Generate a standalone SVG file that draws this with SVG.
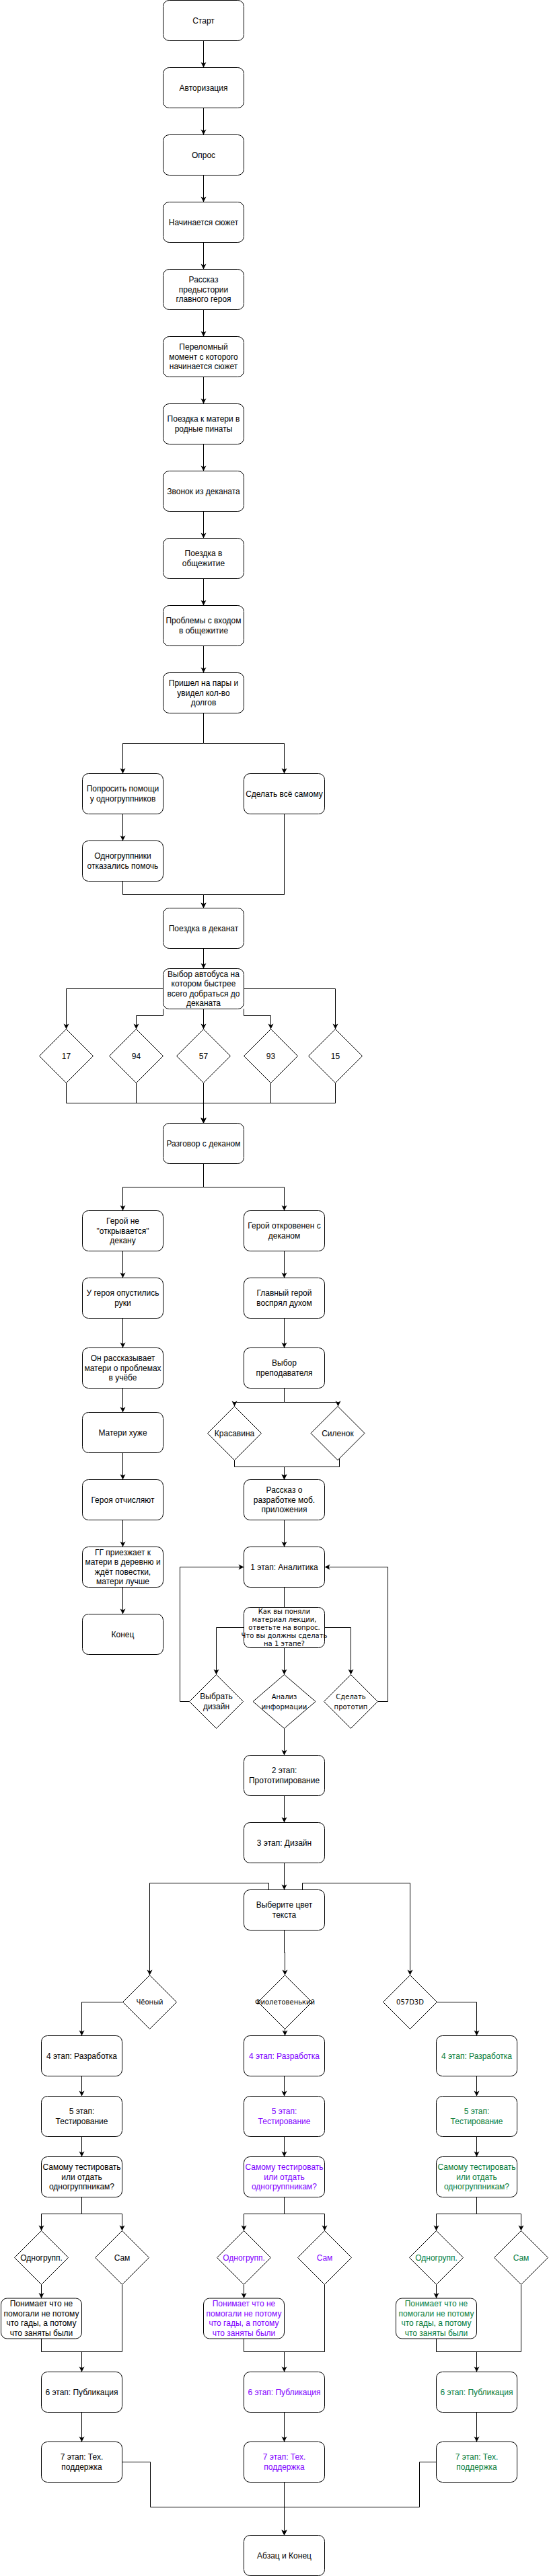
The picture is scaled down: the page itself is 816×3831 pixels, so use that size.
<svg xmlns="http://www.w3.org/2000/svg" width="816" height="3831" viewBox="0 0 816 3831">
<style>
.b{fill:#fff;stroke:#000;stroke-width:1}
.t{font-family:"Liberation Sans",Arial,Helvetica,sans-serif;font-size:12px;text-anchor:middle;fill:#000}
.s{font-family:"DejaVu Sans",Verdana,sans-serif;font-size:10px;text-anchor:middle;fill:#000}
.p{fill:#7F00FF}
.g{fill:#057D3D}
.e path{fill:none;stroke:#000;stroke-width:1}
.e path.a{marker-end:url(#arr)}
</style>
<defs>
<marker id="arr" markerUnits="userSpaceOnUse" markerWidth="10" markerHeight="10" viewBox="-9 -5 10 10" refX="0" refY="0" orient="auto"><path d="M-8,-4 L0,0 L-8,4 L-6,0 Z" fill="#000" stroke="none"/></marker>
</defs>
<rect width="816" height="3831" fill="#fff"/>
<g id="connectors" class="e">
<path class="a" d="M302.5 60.5V100.5"/>
<path class="a" d="M302.5 160.5V200.5"/>
<path class="a" d="M302.5 260.5V300.5"/>
<path class="a" d="M302.5 360.5V400.5"/>
<path class="a" d="M302.5 460.5V500.5"/>
<path class="a" d="M302.5 560.5V600.5"/>
<path class="a" d="M302.5 660.5V700.5"/>
<path class="a" d="M302.5 760.5V800.5"/>
<path class="a" d="M302.5 860.5V900.5"/>
<path class="a" d="M302.5 960.5V1000.5"/>
<path class="a" d="M302.5 1060.5V1105.5H182.5V1150.5"/>
<path class="a" d="M302.5 1105.5H422.5V1150.5"/>
<path class="a" d="M182.5 1210.5V1250.5"/>
<path class="a" d="M182.5 1310.5V1330.5H302.5V1350.5"/>
<path class="a" d="M422.5 1210.5V1330.5H302.5V1350.5"/>
<path class="a" d="M302.5 1410.5V1440.5"/>
<path class="a" d="M242.5 1470.5H98.5V1530.5"/>
<path class="a" d="M242.5 1500.5V1510.5H202.5V1530.5"/>
<path class="a" d="M302.5 1500.5V1530.5"/>
<path class="a" d="M362.5 1500.5V1510.5H402.5V1530.5"/>
<path class="a" d="M362.5 1470.5H498.5V1530.5"/>
<path class="a" d="M98.5 1610.5V1640.5H302.5V1670.5"/>
<path class="a" d="M202.5 1610.5V1640.5H302.5V1670.5"/>
<path class="a" d="M302.5 1610.5V1670.5"/>
<path class="a" d="M402.5 1610.5V1640.5H302.5V1670.5"/>
<path class="a" d="M498.5 1610.5V1640.5H302.5V1670.5"/>
<path class="a" d="M302.5 1730.5V1765.5H182.5V1800.5"/>
<path class="a" d="M302.5 1765.5H422.5V1800.5"/>
<path class="a" d="M182.5 1860.5V1900.5"/>
<path class="a" d="M182.5 1960.5V2004.5"/>
<path class="a" d="M182.5 2064.5V2100.5"/>
<path class="a" d="M182.5 2160.5V2200.5"/>
<path class="a" d="M182.5 2260.5V2300.5"/>
<path class="a" d="M182.5 2360.5V2400.5"/>
<path class="a" d="M422.5 1860.5V1900.5"/>
<path class="a" d="M422.5 1960.5V2004.5"/>
<path class="a" d="M422.5 2064.5V2085.5H348.5V2091.5"/>
<path class="a" d="M422.5 2085.5H502.5V2091.5"/>
<path class="a" d="M348.5 2171.5V2181.5H422.5V2200.5"/>
<path class="a" d="M504.5 2169V2181.5H422.5V2200.5"/>
<path class="a" d="M422.5 2260.5V2300.5"/>
<path d="M422.5 2360.5V2390.5"/>
<path class="a" d="M362.5 2420.5H321.5V2490.5"/>
<path class="a" d="M422.5 2450.5V2490.5"/>
<path class="a" d="M482.5 2420.5H521.5V2490.5"/>
<path class="a" d="M281.5 2530.5H267.5V2330.5H362.5"/>
<path class="a" d="M561.5 2530.5H576.5V2330.5H482.5"/>
<path class="a" d="M422.5 2570.5V2610.5"/>
<path class="a" d="M422.5 2670.5V2710.5"/>
<path class="a" d="M422.5 2770.5V2810.5"/>
<path class="a" d="M399.5 2810.5V2800.5H222.5V2937.5"/>
<path class="a" d="M449.5 2810.5V2800.5H609.5V2937.5"/>
<path class="a" d="M422.5 2870.5V2903.5H423.5V2937.5"/>
<path class="a" d="M182.5 2977.5H121.5V3027.5"/>
<path class="a" d="M423.5 3017.5V3027.5"/>
<path d="M423.5 3027.5V3036.5"/>
<path class="a" d="M649.5 2977.5H708.5V3027.5"/>
<path class="a" d="M121.5 3087.5V3117.5"/>
<path class="a" d="M121.5 3177.5V3207.5"/>
<path class="a" d="M121.5 3267.5V3292.5H61.5V3317.5"/>
<path class="a" d="M121.5 3292.5H181.5V3317.5"/>
<path class="a" d="M61.5 3397.5V3418"/>
<path d="M61.5 3478V3497.5H181.5V3397.5"/>
<path class="a" d="M121.5 3497.5V3527.5"/>
<path class="a" d="M121.5 3587.5V3631.5"/>
<path class="a" d="M422.5 3087.5V3117.5"/>
<path class="a" d="M422.5 3177.5V3207.5"/>
<path class="a" d="M422.5 3267.5V3292.5H362.5V3317.5"/>
<path class="a" d="M422.5 3292.5H482.5V3317.5"/>
<path class="a" d="M362.5 3397.5V3418"/>
<path d="M362.5 3478V3497.5H482.5V3397.5"/>
<path class="a" d="M422.5 3497.5V3527.5"/>
<path class="a" d="M422.5 3587.5V3631.5"/>
<path class="a" d="M708.5 3087.5V3117.5"/>
<path class="a" d="M708.5 3177.5V3207.5"/>
<path class="a" d="M708.5 3267.5V3292.5H648.5V3317.5"/>
<path class="a" d="M708.5 3292.5H774.5V3317.5"/>
<path class="a" d="M648.5 3397.5V3418"/>
<path d="M648.5 3478V3497.5H774.5V3397.5"/>
<path class="a" d="M708.5 3497.5V3527.5"/>
<path class="a" d="M708.5 3587.5V3631.5"/>
<path class="a" d="M181.5 3661.5H223.5V3728.5H422.5V3770.5"/>
<path class="a" d="M422.5 3691.5V3770.5"/>
<path class="a" d="M648.5 3661.5H623.5V3728.5H422.5V3770.5"/>
</g>
<g id="n-start"><rect class="b" x="242.5" y="0.5" width="120" height="60" rx="9"/><text class="t" x="302.5" y="34.5">Старт</text></g>
<g id="n-auth"><rect class="b" x="242.5" y="100.5" width="120" height="60" rx="9"/><text class="t" x="302.5" y="134.5">Авторизация</text></g>
<g id="n-opros"><rect class="b" x="242.5" y="200.5" width="120" height="60" rx="9"/><text class="t" x="302.5" y="234.5">Опрос</text></g>
<g id="n-syuzhet"><rect class="b" x="242.5" y="300.5" width="120" height="60" rx="9"/><text class="t" x="302.5" y="334.5">Начинается сюжет</text></g>
<g id="n-rasskaz"><rect class="b" x="242.5" y="400.5" width="120" height="60" rx="9"/><text class="t"><tspan x="302.5" y="420.1">Рассказ</tspan><tspan x="302.5" y="434.5">предыстории</tspan><tspan x="302.5" y="448.9">главного героя</tspan></text></g>
<g id="n-perelom"><rect class="b" x="242.5" y="500.5" width="120" height="60" rx="9"/><text class="t"><tspan x="302.5" y="520.1">Переломный</tspan><tspan x="302.5" y="534.5">момент с которого</tspan><tspan x="302.5" y="548.9">начинается сюжет</tspan></text></g>
<g id="n-poezdka-mat"><rect class="b" x="242.5" y="600.5" width="120" height="60" rx="9"/><text class="t"><tspan x="302.5" y="627.3">Поездка к матери в</tspan><tspan x="302.5" y="641.7">родные пинаты</tspan></text></g>
<g id="n-zvonok"><rect class="b" x="242.5" y="700.5" width="120" height="60" rx="9"/><text class="t" x="302.5" y="734.5">Звонок из деканата</text></g>
<g id="n-obsh"><rect class="b" x="242.5" y="800.5" width="120" height="60" rx="9"/><text class="t"><tspan x="302.5" y="827.3">Поездка в</tspan><tspan x="302.5" y="841.7">общежитие</tspan></text></g>
<g id="n-problemy"><rect class="b" x="242.5" y="900.5" width="120" height="60" rx="9"/><text class="t"><tspan x="302.5" y="927.3">Проблемы с входом</tspan><tspan x="302.5" y="941.7">в общежитие</tspan></text></g>
<g id="n-prishel"><rect class="b" x="242.5" y="1000.5" width="120" height="60" rx="9"/><text class="t"><tspan x="302.5" y="1020.1">Пришел на пары и</tspan><tspan x="302.5" y="1034.5">увидел кол-во</tspan><tspan x="302.5" y="1048.9">долгов</tspan></text></g>
<g id="n-poprosit"><rect class="b" x="122.5" y="1150.5" width="120" height="60" rx="9"/><text class="t"><tspan x="182.5" y="1177.3">Попросить помощи</tspan><tspan x="182.5" y="1191.7">у одногруппников</tspan></text></g>
<g id="n-sam"><rect class="b" x="362.5" y="1150.5" width="120" height="60" rx="9"/><text class="t" x="422.5" y="1184.5">Сделать всё самому</text></g>
<g id="n-otkaz"><rect class="b" x="122.5" y="1250.5" width="120" height="60" rx="9"/><text class="t"><tspan x="182.5" y="1277.3">Одногруппники</tspan><tspan x="182.5" y="1291.7">отказались помочь</tspan></text></g>
<g id="n-dekanat"><rect class="b" x="242.5" y="1350.5" width="120" height="60" rx="9"/><text class="t" x="302.5" y="1384.5">Поездка в деканат</text></g>
<g id="n-bus"><rect class="b" x="242.5" y="1440.5" width="120" height="60" rx="9"/><text class="t"><tspan x="302.5" y="1452.9">Выбор автобуса на</tspan><tspan x="302.5" y="1467.3">котором быстрее</tspan><tspan x="302.5" y="1481.7">всего добраться до</tspan><tspan x="302.5" y="1496.1">деканата</tspan></text></g>
<g id="n-b17"><polygon class="b" points="98.5,1530.5 138.5,1570.5 98.5,1610.5 58.5,1570.5"/><text class="t" x="98.5" y="1574.5">17</text></g>
<g id="n-b94"><polygon class="b" points="202.5,1530.5 242.5,1570.5 202.5,1610.5 162.5,1570.5"/><text class="t" x="202.5" y="1574.5">94</text></g>
<g id="n-b57"><polygon class="b" points="302.5,1530.5 342.5,1570.5 302.5,1610.5 262.5,1570.5"/><text class="t" x="302.5" y="1574.5">57</text></g>
<g id="n-b93"><polygon class="b" points="402.5,1530.5 442.5,1570.5 402.5,1610.5 362.5,1570.5"/><text class="t" x="402.5" y="1574.5">93</text></g>
<g id="n-b15"><polygon class="b" points="498.5,1530.5 538.5,1570.5 498.5,1610.5 458.5,1570.5"/><text class="t" x="498.5" y="1574.5">15</text></g>
<g id="n-razgovor"><rect class="b" x="242.5" y="1670.5" width="120" height="60" rx="9"/><text class="t" x="302.5" y="1704.5">Разговор с деканом</text></g>
<g id="n-ne-otkr"><rect class="b" x="122.5" y="1800.5" width="120" height="60" rx="9"/><text class="t"><tspan x="182.5" y="1820.1">Герой не</tspan><tspan x="182.5" y="1834.5">"открывается"</tspan><tspan x="182.5" y="1848.9">декану</tspan></text></g>
<g id="n-otkr"><rect class="b" x="362.5" y="1800.5" width="120" height="60" rx="9"/><text class="t"><tspan x="422.5" y="1827.3">Герой откровенен с</tspan><tspan x="422.5" y="1841.7">деканом</tspan></text></g>
<g id="n-ruki"><rect class="b" x="122.5" y="1900.5" width="120" height="60" rx="9"/><text class="t"><tspan x="182.5" y="1927.3">У героя опустились</tspan><tspan x="182.5" y="1941.7">руки</tspan></text></g>
<g id="n-vospryal"><rect class="b" x="362.5" y="1900.5" width="120" height="60" rx="9"/><text class="t"><tspan x="422.5" y="1927.3">Главный герой</tspan><tspan x="422.5" y="1941.7">воспрял духом</tspan></text></g>
<g id="n-materi-rasskaz"><rect class="b" x="122.5" y="2004.5" width="120" height="60" rx="9"/><text class="t"><tspan x="182.5" y="2024.1">Он рассказывает</tspan><tspan x="182.5" y="2038.5">матери о проблемах</tspan><tspan x="182.5" y="2052.9">в учёбе</tspan></text></g>
<g id="n-prepod"><rect class="b" x="362.5" y="2004.5" width="120" height="60" rx="9"/><text class="t"><tspan x="422.5" y="2031.3">Выбор</tspan><tspan x="422.5" y="2045.7">преподавателя</tspan></text></g>
<g id="n-huzhe"><rect class="b" x="122.5" y="2100.5" width="120" height="60" rx="9"/><text class="t" x="182.5" y="2134.5">Матери хуже</text></g>
<g id="n-krasavina"><polygon class="b" points="348.5,2091.5 388.5,2131.5 348.5,2171.5 308.5,2131.5"/><text class="t" x="348.5" y="2135.5">Красавина</text></g>
<g id="n-silenok"><polygon class="b" points="502,2091.5 542,2131.5 502,2171.5 462,2131.5"/><text class="t" x="502" y="2135.5">Силенок</text></g>
<g id="n-otchislyayut"><rect class="b" x="122.5" y="2200.5" width="120" height="60" rx="9"/><text class="t" x="182.5" y="2234.5">Героя отчисляют</text></g>
<g id="n-razrabotka"><rect class="b" x="362.5" y="2200.5" width="120" height="60" rx="9"/><text class="t"><tspan x="422.5" y="2220.1">Рассказ о</tspan><tspan x="422.5" y="2234.5">разработке моб.</tspan><tspan x="422.5" y="2248.9">приложения</tspan></text></g>
<g id="n-gg"><rect class="b" x="122.5" y="2300.5" width="120" height="60" rx="9"/><text class="t"><tspan x="182.5" y="2312.9">ГГ приезжает к</tspan><tspan x="182.5" y="2327.3">матери в деревню и</tspan><tspan x="182.5" y="2341.7">ждёт повестки,</tspan><tspan x="182.5" y="2356.1">матери лучше</tspan></text></g>
<g id="n-analitika"><rect class="b" x="362.5" y="2300.5" width="120" height="60" rx="9"/><text class="t" x="422.5" y="2334.5">1 этап: Аналитика</text></g>
<g id="n-konec"><rect class="b" x="122.5" y="2400.5" width="120" height="60" rx="9"/><text class="t" x="182.5" y="2434.5">Конец</text></g>
<g id="n-vopros"><rect class="b" x="362.5" y="2390.5" width="120" height="60" rx="9"/><text class="s"><tspan x="422.5" y="2400">Как вы поняли</tspan><tspan x="422.5" y="2412">материал лекции,</tspan><tspan x="422.5" y="2424">ответьте на вопрос.</tspan><tspan x="422.5" y="2436">Что вы должны сделать</tspan><tspan x="422.5" y="2448">на 1 этапе?</tspan></text></g>
<g id="n-vybrat-dizain"><polygon class="b" points="321.5,2490.5 361.5,2530.5 321.5,2570.5 281.5,2530.5"/><text class="t"><tspan x="321.5" y="2527.3">Выбрать</tspan><tspan x="321.5" y="2541.7">дизайн</tspan></text></g>
<g id="n-analiz"><polygon class="b" points="422.5,2490.5 469,2530.5 422.5,2570.5 376,2530.5"/><text class="s"><tspan x="422.5" y="2527">Анализ</tspan><tspan x="422.5" y="2542">информации</tspan></text></g>
<g id="n-prototip"><polygon class="b" points="521.5,2490.5 561.5,2530.5 521.5,2570.5 481.5,2530.5"/><text class="s"><tspan x="521.5" y="2527">Сделать</tspan><tspan x="521.5" y="2542">прототип</tspan></text></g>
<g id="n-etap2"><rect class="b" x="362.5" y="2610.5" width="120" height="60" rx="9"/><text class="t"><tspan x="422.5" y="2637.3">2 этап:</tspan><tspan x="422.5" y="2651.7">Прототипирование</tspan></text></g>
<g id="n-etap3"><rect class="b" x="362.5" y="2710.5" width="120" height="60" rx="9"/><text class="t" x="422.5" y="2744.5">3 этап: Дизайн</text></g>
<g id="n-cvet"><rect class="b" x="362.5" y="2810.5" width="120" height="60" rx="9"/><text class="t"><tspan x="422.5" y="2837.3">Выберите цвет</tspan><tspan x="422.5" y="2851.7">текста</tspan></text></g>
<g id="n-chern"><polygon class="b" points="222.5,2937.5 262.5,2977.5 222.5,3017.5 182.5,2977.5"/><text class="s" x="222.5" y="2981">Чёоный</text></g>
<g id="n-fiolet"><polygon class="b" points="423.5,2937.5 463.5,2977.5 423.5,3017.5 383.5,2977.5"/><text class="s" x="423.5" y="2981">Фиолетовенький</text></g>
<g id="n-green"><polygon class="b" points="609.5,2937.5 649.5,2977.5 609.5,3017.5 569.5,2977.5"/><text class="s" x="609.5" y="2981">057D3D</text></g>
<g id="l-etap4"><rect class="b" x="61.5" y="3027.5" width="120" height="60" rx="9"/><text class="t" x="121.5" y="3061.5">4 этап: Разработка</text></g>
<g id="l-etap5"><rect class="b" x="61.5" y="3117.5" width="120" height="60" rx="9"/><text class="t"><tspan x="121.5" y="3144.3">5 этап:</tspan><tspan x="121.5" y="3158.7">Тестирование</tspan></text></g>
<g id="l-test"><rect class="b" x="61.5" y="3207.5" width="120" height="60" rx="9"/><text class="t"><tspan x="121.5" y="3227.1">Самому тестировать</tspan><tspan x="121.5" y="3241.5">или отдать</tspan><tspan x="121.5" y="3255.9">одногруппникам?</tspan></text></g>
<g id="l-odno"><polygon class="b" points="61.5,3317.5 101.5,3357.5 61.5,3397.5 21.5,3357.5"/><text class="t" x="61.5" y="3361.5">Одногрупп.</text></g>
<g id="l-sam"><polygon class="b" points="181.5,3317.5 221.5,3357.5 181.5,3397.5 141.5,3357.5"/><text class="t" x="181.5" y="3361.5">Сам</text></g>
<g id="l-ponimaet"><rect class="b" x="1.5" y="3418" width="120" height="60" rx="9"/><text class="t"><tspan x="61.5" y="3430.4">Понимает что не</tspan><tspan x="61.5" y="3444.8">помогали не потому</tspan><tspan x="61.5" y="3459.2">что гады, а потому</tspan><tspan x="61.5" y="3473.6">что заняты были</tspan></text></g>
<g id="l-etap6"><rect class="b" x="61.5" y="3527.5" width="120" height="60" rx="9"/><text class="t" x="121.5" y="3561.5">6 этап: Публикация</text></g>
<g id="l-etap7"><rect class="b" x="61.5" y="3631.5" width="120" height="60" rx="9"/><text class="t"><tspan x="121.5" y="3658.3">7 этап: Тех.</tspan><tspan x="121.5" y="3672.7">поддержка</tspan></text></g>
<g id="m-etap4"><rect class="b" x="362.5" y="3027.5" width="120" height="60" rx="9"/><text class="t p" x="422.5" y="3061.5">4 этап: Разработка</text></g>
<g id="m-etap5"><rect class="b" x="362.5" y="3117.5" width="120" height="60" rx="9"/><text class="t p"><tspan x="422.5" y="3144.3">5 этап:</tspan><tspan x="422.5" y="3158.7">Тестирование</tspan></text></g>
<g id="m-test"><rect class="b" x="362.5" y="3207.5" width="120" height="60" rx="9"/><text class="t p"><tspan x="422.5" y="3227.1">Самому тестировать</tspan><tspan x="422.5" y="3241.5">или отдать</tspan><tspan x="422.5" y="3255.9">одногруппникам?</tspan></text></g>
<g id="m-odno"><polygon class="b" points="362.5,3317.5 402.5,3357.5 362.5,3397.5 322.5,3357.5"/><text class="t p" x="362.5" y="3361.5">Одногрупп.</text></g>
<g id="m-sam"><polygon class="b" points="482.5,3317.5 522.5,3357.5 482.5,3397.5 442.5,3357.5"/><text class="t p" x="482.5" y="3361.5">Сам</text></g>
<g id="m-ponimaet"><rect class="b" x="302.5" y="3418" width="120" height="60" rx="9"/><text class="t p"><tspan x="362.5" y="3430.4">Понимает что не</tspan><tspan x="362.5" y="3444.8">помогали не потому</tspan><tspan x="362.5" y="3459.2">что гады, а потому</tspan><tspan x="362.5" y="3473.6">что заняты были</tspan></text></g>
<g id="m-etap6"><rect class="b" x="362.5" y="3527.5" width="120" height="60" rx="9"/><text class="t p" x="422.5" y="3561.5">6 этап: Публикация</text></g>
<g id="m-etap7"><rect class="b" x="362.5" y="3631.5" width="120" height="60" rx="9"/><text class="t p"><tspan x="422.5" y="3658.3">7 этап: Тех.</tspan><tspan x="422.5" y="3672.7">поддержка</tspan></text></g>
<g id="r-etap4"><rect class="b" x="648.5" y="3027.5" width="120" height="60" rx="9"/><text class="t g" x="708.5" y="3061.5">4 этап: Разработка</text></g>
<g id="r-etap5"><rect class="b" x="648.5" y="3117.5" width="120" height="60" rx="9"/><text class="t g"><tspan x="708.5" y="3144.3">5 этап:</tspan><tspan x="708.5" y="3158.7">Тестирование</tspan></text></g>
<g id="r-test"><rect class="b" x="648.5" y="3207.5" width="120" height="60" rx="9"/><text class="t g"><tspan x="708.5" y="3227.1">Самому тестировать</tspan><tspan x="708.5" y="3241.5">или отдать</tspan><tspan x="708.5" y="3255.9">одногруппникам?</tspan></text></g>
<g id="r-odno"><polygon class="b" points="648.5,3317.5 688.5,3357.5 648.5,3397.5 608.5,3357.5"/><text class="t g" x="648.5" y="3361.5">Одногрупп.</text></g>
<g id="r-sam"><polygon class="b" points="774.5,3317.5 814.5,3357.5 774.5,3397.5 734.5,3357.5"/><text class="t g" x="774.5" y="3361.5">Сам</text></g>
<g id="r-ponimaet"><rect class="b" x="588.5" y="3418" width="120" height="60" rx="9"/><text class="t g"><tspan x="648.5" y="3430.4">Понимает что не</tspan><tspan x="648.5" y="3444.8">помогали не потому</tspan><tspan x="648.5" y="3459.2">что гады, а потому</tspan><tspan x="648.5" y="3473.6">что заняты были</tspan></text></g>
<g id="r-etap6"><rect class="b" x="648.5" y="3527.5" width="120" height="60" rx="9"/><text class="t g" x="708.5" y="3561.5">6 этап: Публикация</text></g>
<g id="r-etap7"><rect class="b" x="648.5" y="3631.5" width="120" height="60" rx="9"/><text class="t g"><tspan x="708.5" y="3658.3">7 этап: Тех.</tspan><tspan x="708.5" y="3672.7">поддержка</tspan></text></g>
<g id="n-abzac"><rect class="b" x="362.5" y="3770.5" width="120" height="60" rx="9"/><text class="t" x="422.5" y="3804.5">Абзац и Конец</text></g>
</svg>
